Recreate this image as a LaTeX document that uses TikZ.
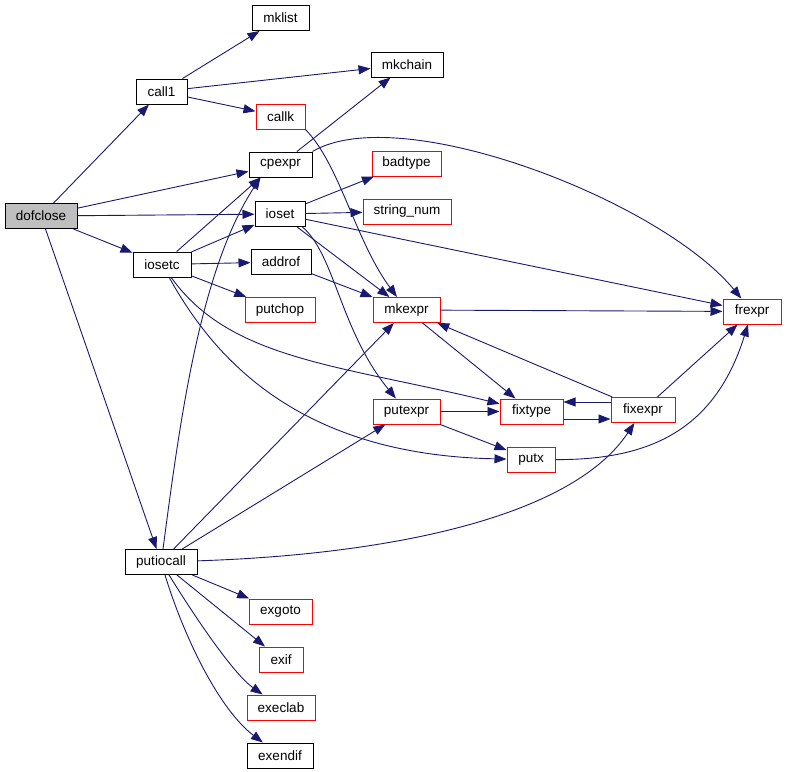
\documentclass[tikz,border=0pt]{standalone}
\usepackage{fontspec}
\setmainfont{Liberation Sans}
\usetikzlibrary{arrows.meta}
\definecolor{edgec}{HTML}{191970}
\definecolor{redb}{HTML}{FF0000}
\definecolor{grayf}{HTML}{BFBFBF}
\begin{document}
\begin{tikzpicture}[x=1pt,y=-1pt,
  fn/.style={draw=black,line width=1pt,minimum height=25,inner sep=0pt,
    font=\fontsize{13.5}{15}\selectfont,text=black},
  fnred/.style={fn,draw=redb},
  fnroot/.style={fn,fill=grayf},
  edge/.style={draw=edgec,line width=0.9pt,-{Triangle[length=12pt,width=9pt]}}]
\useasboundingbox (0,0) rectangle (786,771);
% nodes
\node[fnroot,minimum width=72] (dofclose) at (41,216) {dofclose};
\node[fn,minimum width=51] (call1) at (161.5,91.5) {call1};
\node[fn,minimum width=57] (mklist) at (280.5,18) {mklist};
\node[fn,minimum width=72] (mkchain) at (407,64.5) {mkchain};
\node[fnred,minimum width=49] (callk) at (280.5,116.5) {callk};
\node[fn,minimum width=63] (cpexpr) at (280.5,164.5) {cpexpr};
\node[fnred,minimum width=69] (badtype) at (406.5,163.5) {badtype};
\node[fn,minimum width=50] (ioset) at (280,214) {ioset};
\node[fnred,minimum width=88] (string_num) at (407,211.5) {string\_num};
\node[fn,minimum width=58] (iosetc) at (162,264.5) {iosetc};
\node[fn,minimum width=60] (addrof) at (281,262) {addrof};
\node[fnred,minimum width=70] (putchop) at (280,310) {putchop};
\node[fnred,minimum width=67] (mkexpr) at (406.5,310) {mkexpr};
\node[fnred,minimum width=58] (frexpr) at (752,311.5) {frexpr};
\node[fnred,minimum width=67] (putexpr) at (406.5,411.5) {putexpr};
\node[fnred,minimum width=63] (fixtype) at (531.5,411.5) {fixtype};
\node[fnred,minimum width=64] (fixexpr) at (643,410) {fixexpr};
\node[fnred,minimum width=48] (putx) at (531,459.5) {putx};
\node[fn,minimum width=72] (putiocall) at (161,562) {putiocall};
\node[fnred,minimum width=63] (exgoto) at (280.5,611.5) {exgoto};
\node[fnred,minimum width=44] (exif) at (281,659.5) {exif};
\node[fnred,minimum width=68] (execlab) at (281,707.5) {execlab};
\node[fn,minimum width=66] (exendif) at (280,755.5) {exendif};
% helper coordinates
\coordinate (cpin) at ([xshift=12pt]cpexpr.south west);
\coordinate (fxa) at ([yshift=8pt]fixexpr.west);
\coordinate (fta) at ([yshift=-7.5pt]fixtype.east);
% edges
\path[edge] (dofclose) -- (call1);
\path[edge] (dofclose) -- (cpexpr);
\path[edge] (dofclose) -- (ioset);
\path[edge] (dofclose) -- (iosetc);
\path[edge] (dofclose) -- (putiocall);
\path[edge] (call1) -- (mklist);
\path[edge] (call1) -- (mkchain);
\path[edge] (call1) -- (callk);
\path[edge] (callk.south east) .. controls (340,165) and (355,240) .. (mkexpr);
\path[edge] (cpexpr) -- (mkchain);
\path[edge] (cpexpr.north east) .. controls (400,100) and (660,200) .. (frexpr);
\path[edge] (ioset) -- (badtype);
\path[edge] (ioset) -- (string_num);
\path[edge] (ioset) -- (frexpr);
\path[edge] (ioset) -- (mkexpr);
\path[edge] ([xshift=-3pt]ioset.south east) .. controls (335,255) and (340,330) .. (putexpr);
\path[edge] (iosetc) -- (cpin);
\path[edge] (iosetc) -- (ioset);
\path[edge] (iosetc) -- (addrof);
\path[edge] (iosetc) -- (putchop);
\path[edge] (iosetc) .. controls (230,360) and (340,365) .. (fixtype);
\path[edge] (iosetc) .. controls (215,360) and (300,455) .. (putx);
\path[edge] (addrof) -- (mkexpr);
\path[edge] (mkexpr) -- (frexpr);
\path[edge] (mkexpr) -- (fixtype);
\path[edge] (fixexpr) -- (mkexpr);
\path[edge] (fxa) -- (fxa -| fixtype.east);
\path[edge] (fta) -- (fta -| fixexpr.west);
\path[edge] (fixexpr) -- (frexpr);
\path[edge] (putexpr) -- (fixtype);
\path[edge] (putexpr) -- (putx);
\path[edge] (putx) .. controls (650,460) and (715,430) .. (frexpr);
\path[edge] ([xshift=2pt]putiocall.north) .. controls (180,420) and (200,270) .. (cpin);
\path[edge] (putiocall) -- (mkexpr);
\path[edge] (putiocall) -- (putexpr);
\path[edge] (putiocall) .. controls (380,555) and (570,520) .. (fixexpr);
\path[edge] (putiocall) -- (exgoto);
\path[edge] (putiocall) -- (exif);
\path[edge] (putiocall) .. controls (200,625) and (235,675) .. (execlab);
\path[edge] (putiocall) .. controls (185,640) and (220,710) .. (exendif);
\end{tikzpicture}
\end{document}
